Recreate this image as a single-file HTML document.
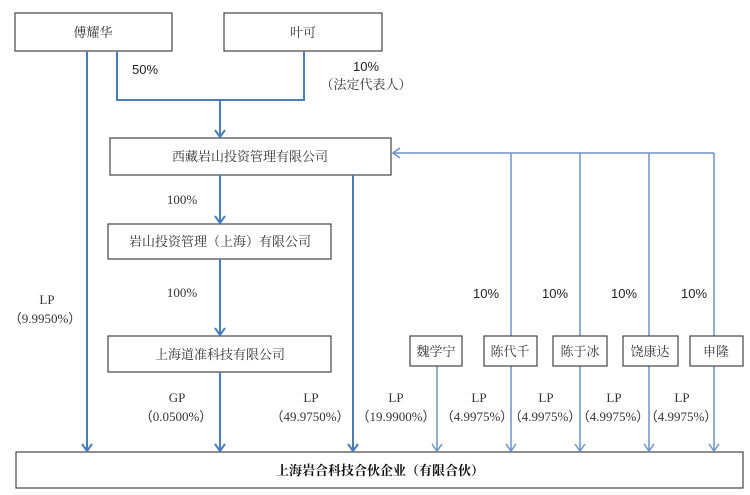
<!DOCTYPE html>
<html><head><meta charset="utf-8"><style>
html,body{margin:0;padding:0;background:#fff;}
svg{display:block;}
.c{font-family:"Liberation Serif","Noto Serif CJK SC","Noto Sans CJK SC",serif;font-size:13px;fill:#333;}
.s{font-family:"Liberation Sans",sans-serif;font-size:13px;fill:#222;}
.n{font-family:"Liberation Serif",serif;font-size:13px;fill:#333;}
</style></head><body>
<svg width="750" height="495" viewBox="0 0 750 495" xmlns="http://www.w3.org/2000/svg">
<defs>
<marker id="a" markerWidth="12" markerHeight="12" refX="10" refY="6" orient="auto" markerUnits="userSpaceOnUse">
<path d="M3,1 L10,6 L3,11" fill="none" stroke="#4a7ebb" stroke-width="2"/></marker>
<marker id="b" markerWidth="12" markerHeight="12" refX="10" refY="6" orient="auto" markerUnits="userSpaceOnUse">
<path d="M3,1 L10,6 L3,11" fill="none" stroke="#6a93c8" stroke-width="1.5"/></marker>
</defs>
<g fill="#fff" stroke="#444" stroke-width="1.2">
<rect x="15" y="13" width="157" height="38"/>
<rect x="224" y="13" width="158" height="38"/>
<rect x="110" y="138" width="281" height="37"/>
<rect x="108" y="224" width="223" height="35"/>
<rect x="108" y="336" width="223" height="36"/>
<rect x="16" y="452" width="727" height="36"/>
</g>
<g stroke="#4a7ebb" stroke-width="2" fill="none">
<path d="M117,51 V100 H304 V51"/>
<path d="M220,100 V137" marker-end="url(#a)"/>
<path d="M220,175 V223" marker-end="url(#a)"/>
<path d="M220,259 V335" marker-end="url(#a)"/>
<path d="M220,372 V451" marker-end="url(#a)"/>
<path d="M87,51 V451" marker-end="url(#a)"/>
<path d="M353,175 V451" marker-end="url(#a)"/>
</g>
<g stroke="#6a93c8" stroke-width="1.5" fill="none">
<path d="M714,153 H393" marker-end="url(#b)" />
<path d="M511,153 V451" marker-end="url(#b)"/>
<path d="M580,153 V451" marker-end="url(#b)"/>
<path d="M649,153 V451" marker-end="url(#b)"/>
<path d="M714,153 V451" marker-end="url(#b)"/>
<path d="M437,366 V451" marker-end="url(#b)"/>
</g>
<g fill="#fff" stroke="#444" stroke-width="1.2">
<rect x="410" y="336" width="52" height="30"/>
<rect x="484" y="336" width="53" height="30"/>
<rect x="553" y="336" width="54" height="30"/>
<rect x="623" y="336" width="55" height="30"/>
<rect x="690" y="336" width="53" height="30"/>
</g>
<g class="c" text-anchor="middle">
<text x="93" y="37">傅耀华</text>
<text x="303" y="37">叶可</text>
<text x="250" y="161">西藏岩山投资管理有限公司</text>
<text x="220" y="246">岩山投资管理（上海）有限公司</text>
<text x="220" y="359">上海道准科技有限公司</text>
<text x="436" y="356">魏学宁</text>
<text x="510" y="356">陈代千</text>
<text x="580" y="356">陈于冰</text>
<text x="650" y="356">饶康达</text>
<text x="716" y="356">申隆</text>
<text x="366" y="89">（法定代表人）</text>
<text x="380" y="475" font-weight="bold" fill="#111">上海岩合科技合伙企业（有限合伙）</text>
</g>
<g class="s" text-anchor="middle">
<text x="145" y="74">50%</text>
<text x="366" y="71">10%</text>
<text x="486" y="298">10%</text>
<text x="555" y="298">10%</text>
<text x="624" y="298">10%</text>
<text x="694" y="298">10%</text>
</g>
<g class="n" text-anchor="middle">
<text x="182" y="204">100%</text>
<text x="182" y="297">100%</text>
<text x="47" y="304">LP</text>
<text x="45" y="323">（9.9950%）</text>
<text x="177" y="402">GP</text>
<text x="176" y="421">（0.0500%）</text>
<text x="311" y="402">LP</text>
<text x="310" y="421">（49.9750%）</text>
<text x="396" y="402">LP</text>
<text x="396" y="421">（19.9900%）</text>
<text x="479" y="402">LP</text>
<text x="477" y="421">（4.9975%）</text>
<text x="546" y="402">LP</text>
<text x="545" y="421">（4.9975%）</text>
<text x="614" y="402">LP</text>
<text x="613" y="421">（4.9975%）</text>
<text x="682" y="402">LP</text>
<text x="681" y="421">（4.9975%）</text>
</g>
</svg>
</body></html>
